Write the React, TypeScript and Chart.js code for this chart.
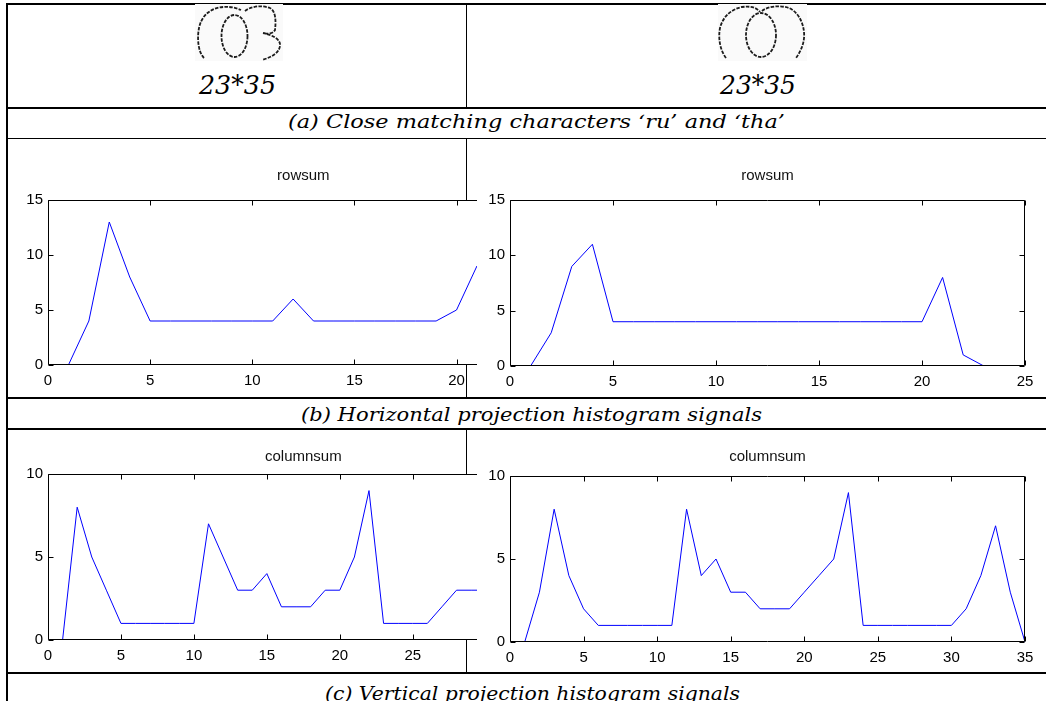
import React, { useEffect, useRef } from "react";
import { Chart, registerables } from "chart.js";
Chart.register(...registerables);

// ---------- data ----------
// horizontal projection (rowsum), character 'ru' (only the visible part, x = 1..21)
const rowsumRu = [0, 4, 13, 8, 4, 4, 4, 4, 4, 4, 4, 6, 4, 4, 4, 4, 4, 4, 4, 5, 9];
// horizontal projection (rowsum), character 'tha' (x = 1..23)
const rowsumTha = [0, 3, 9, 11, 4, 4, 4, 4, 4, 4, 4, 4, 4, 4, 4, 4, 4, 4, 4, 4, 8, 1, 0];
// vertical projection (columnsum), character 'ru' (visible part, x = 1..30)
const colsumRu = [0, 8, 5, 3, 1, 1, 1, 1, 1, 1, 7, 5, 3, 3, 4, 2, 2, 2, 3, 3, 5, 9, 1, 1, 1, 1, 2, 3, 3, 3];
// vertical projection (columnsum), character 'tha' (x = 1..35)
const colsumTha = [0, 3, 8, 4, 2, 1, 1, 1, 1, 1, 1, 8, 4, 5, 3, 3, 2, 2, 2, 3, 4, 5, 9, 1, 1, 1, 1, 1, 1, 1, 2, 4, 7, 3, 0];

const rowXTicks = [0, 5, 10, 15, 20, 25];
const rowYTicks = [0, 5, 10, 15];
const colXTicks = [0, 5, 10, 15, 20, 25, 30, 35];
const colYTicks = [0, 5, 10];

const sizeLabel = "23*35";
const captionA = "(a)  Close matching characters \u2018ru\u2019 and \u2018tha\u2019";
const captionB = "(b)  Horizontal  projection histogram signals";
const captionC = "(c) Vertical projection histogram signals";

const SANS = "'Liberation Sans', Arial, Helvetica, sans-serif";
const SERIF = "'DejaVu Serif', serif";

const matlabAxes = {
  id: "matlabAxes",
  beforeDraw(chart: any, _args: any, opts: any) {
    const { ctx, chartArea: a } = chart;
    ctx.save();
    ctx.fillStyle = "#ffffff";
    if (opts && opts.full) ctx.fillRect(0, 0, chart.width, chart.height);
    else ctx.fillRect(a.left, a.top, a.right - a.left, a.bottom - a.top);
    ctx.restore();
  },
  afterDraw(chart: any) {
    const { ctx, chartArea: a, scales } = chart;
    const L = Math.round(a.left) + 0.5;
    const R = Math.round(a.right) - 0.5;
    const T = Math.round(a.top) + 0.5;
    const B = Math.round(a.bottom) - 0.5;
    ctx.save();
    ctx.strokeStyle = "#000";
    ctx.lineWidth = 1;
    ctx.beginPath();
    ctx.rect(L, T, R - L, B - T);
    const len = 5;
    scales.x.ticks.forEach((t: any) => {
      const px = Math.round(scales.x.getPixelForValue(t.value)) + 0.5;
      ctx.moveTo(px, B);
      ctx.lineTo(px, B - len);
      ctx.moveTo(px, T);
      ctx.lineTo(px, T + len);
    });
    scales.y.ticks.forEach((t: any) => {
      const py = Math.round(scales.y.getPixelForValue(t.value)) + 0.5;
      ctx.moveTo(L, py);
      ctx.lineTo(L + len, py);
      ctx.moveTo(R, py);
      ctx.lineTo(R - len, py);
    });
    ctx.stroke();
    ctx.restore();
  },
};

type Props = {
  values: number[];
  xTicks: number[];
  yTicks: number[];
  title: string;
  left: number;
  top: number;
  width: number;
  height: number;
  titlePad: { top: number; bottom: number };
  padRight: number;
  padBottom: number;
  yAxisW: number;
  xAxisH: number;
  whiteBg: boolean;
};

function LineChart(p: Props) {
  const ref = useRef<HTMLCanvasElement>(null);
  useEffect(() => {
    const tickFont = { family: SANS, size: 15 };
    const chart = new Chart(ref.current as HTMLCanvasElement, {
      type: "line",
      data: {
        datasets: [
          {
            data: p.values.map((v, i) => ({ x: i + 1, y: v })),
            borderColor: "#0000ff",
            borderWidth: 1,
            pointRadius: 0,
            tension: 0,
            fill: false,
          },
        ],
      },
      options: {
        animation: false,
        responsive: false,
        events: [],
        layout: { padding: { left: 0, top: 0, right: p.padRight, bottom: p.padBottom } },
        plugins: {
          legend: { display: false },
          tooltip: { enabled: false },
          title: {
            display: true,
            text: p.title,
            fullSize: false,
            color: "#111",
            font: { family: SANS, size: 15, weight: "normal" },
            padding: p.titlePad,
          },
          matlabAxes: { full: p.whiteBg },
        } as any,
        scales: {
          x: {
            type: "linear",
            min: p.xTicks[0],
            max: p.xTicks[p.xTicks.length - 1],
            grid: { display: false, drawTicks: false },
            border: { display: false },
            ticks: { color: "#000", font: tickFont, padding: 7, maxRotation: 0, autoSkip: false },
            afterBuildTicks: (s: any) => {
              s.ticks = p.xTicks.map((v) => ({ value: v }));
            },
            afterFit: (s: any) => {
              s.height = p.xAxisH;
            },
          },
          y: {
            type: "linear",
            min: p.yTicks[0],
            max: p.yTicks[p.yTicks.length - 1],
            grid: { display: false, drawTicks: false },
            border: { display: false },
            ticks: { color: "#000", font: tickFont, padding: 5 },
            afterBuildTicks: (s: any) => {
              s.ticks = p.yTicks.map((v) => ({ value: v }));
            },
            afterFit: (s: any) => {
              s.width = p.yAxisW;
            },
          },
        } as any,
      },
      plugins: [matlabAxes],
    });
    return () => chart.destroy();
  }, []);
  return (
    <canvas
      ref={ref}
      width={p.width}
      height={p.height}
      style={{ position: "absolute", left: p.left, top: p.top, width: p.width, height: p.height }}
    />
  );
}

function Table() {
  const hl = (y: number, h: number) => <rect x={6} y={y} width={1040} height={h} fill="#000" />;
  const vl = (y1: number, y2: number) => <rect x={466} y={y1} width={1} height={y2 - y1} fill="#000" />;
  const glyphStroke = {
    fill: "none",
    stroke: "#1c1c1c",
    strokeWidth: 1.8,
    strokeDasharray: "3.5 1.3",
    strokeLinecap: "butt" as const,
  };
  return (
    <svg
      width={1046}
      height={701}
      style={{ position: "absolute", left: 0, top: 0 }}
      xmlns="http://www.w3.org/2000/svg"
    >
      <rect x={0} y={0} width={1046} height={701} fill="#fff" />
      {hl(3, 2)}
      <rect x={6} y={3} width={2} height={698} fill="#000" />
      {hl(107, 2)}
      {hl(138, 1)}
      {hl(397, 2)}
      {hl(428, 2)}
      {hl(672, 2)}
      {vl(5, 107)}
      {vl(139, 397)}
      {vl(430, 672)}

      {/* character images */}
      <rect x={195} y={4} width={88} height={57} fill="#fafafa" />
      <rect x={718} y={4} width={89} height={57} fill="#fafafa" />
      <path d="M 204 58 C 198 52 197 38 199 28 C 201 18 207 12 214 9 C 222 6 232 6 241 10" {...glyphStroke} />
      <ellipse cx={234.5} cy={36} rx={13} ry={21} {...glyphStroke} />
      <path
        d="M 245 11 C 251 6 262 5 270 8 C 276 11 276 22 275 30 C 273 34 267 34 263 33 C 272 35 281 39 280 46 C 279 53 272 57 262 60"
        {...glyphStroke}
      />
      <path d="M 726 58 C 720 50 718 38 720 28 C 723 16 732 9 742 7 C 750 6 756 7 760 12" {...glyphStroke} />
      <path d="M 762 11 C 768 6 780 5 789 8 C 798 12 803 22 804 32 C 805 42 801 51 796 58" {...glyphStroke} />
      <ellipse cx={761} cy={35} rx={15} ry={22} {...glyphStroke} />

      <g fontFamily={SERIF} fontStyle="italic" fill="#000" style={{ whiteSpace: "pre" }}>
        <text x={199} y={94} fontSize={26} textLength={77} lengthAdjust="spacingAndGlyphs">
          {sizeLabel}
        </text>
        <text x={720} y={94} fontSize={26} textLength={76} lengthAdjust="spacingAndGlyphs">
          {sizeLabel}
        </text>
        <text x={288} y={128} fontSize={19} textLength={497} lengthAdjust="spacingAndGlyphs">
          {captionA}
        </text>
        <text x={301} y={421} fontSize={19} textLength={461} lengthAdjust="spacingAndGlyphs">
          {captionB}
        </text>
        <text x={325} y={700} fontSize={19} textLength={415} lengthAdjust="spacingAndGlyphs">
          {captionC}
        </text>
      </g>
    </svg>
  );
}

export default function App() {
  return (
    <div style={{ position: "absolute", left: 0, top: 0, width: 1046, height: 701, overflow: "hidden", background: "#fff" }}>
      <Table />
      <LineChart
        values={rowsumRu}
        xTicks={rowXTicks}
        yTicks={rowYTicks}
        title="rowsum"
        left={8}
        top={160}
        width={566}
        height={233}
        titlePad={{ top: 7, bottom: 15 }}
        padRight={12}
        padBottom={0}
        yAxisW={40}
        xAxisH={28}
        whiteBg={false}
      />
      <LineChart
        values={colsumRu}
        xTicks={colXTicks}
        yTicks={colYTicks}
        title="columnsum"
        left={8}
        top={430}
        width={566}
        height={238}
        titlePad={{ top: 18, bottom: 8 }}
        padRight={12}
        padBottom={0}
        yAxisW={40}
        xAxisH={28}
        whiteBg={false}
      />
      <LineChart
        values={rowsumTha}
        xTicks={rowXTicks}
        yTicks={rowYTicks}
        title="rowsum"
        left={477}
        top={145}
        width={569}
        height={250}
        titlePad={{ top: 22, bottom: 15 }}
        padRight={21}
        padBottom={9}
        yAxisW={33}
        xAxisH={20}
        whiteBg={true}
      />
      <LineChart
        values={colsumTha}
        xTicks={colXTicks}
        yTicks={colYTicks}
        title="columnsum"
        left={477}
        top={431}
        width={569}
        height={239}
        titlePad={{ top: 17, bottom: 10 }}
        padRight={21}
        padBottom={8}
        yAxisW={33}
        xAxisH={20}
        whiteBg={true}
      />
    </div>
  );
}
